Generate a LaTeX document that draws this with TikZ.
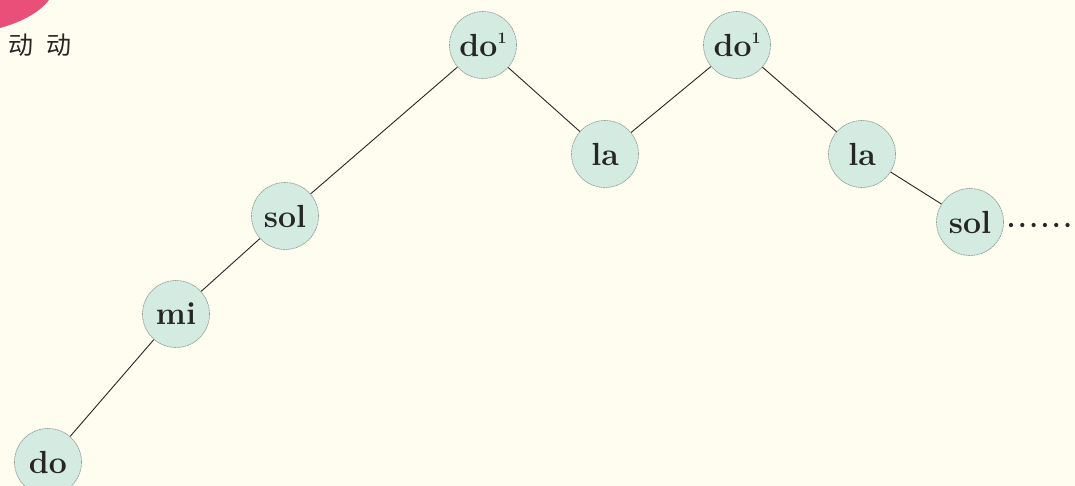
\documentclass[tikz,border=0pt]{standalone}
\usepackage{fontspec}
\newfontfamily\cjk{Noto Sans CJK SC}
\definecolor{bgc}{HTML}{FFFDF0}
\definecolor{notefill}{HTML}{D3EBE1}
\definecolor{noteline}{HTML}{8E9C96}
\definecolor{pinkc}{HTML}{E8507A}
\definecolor{inkc}{HTML}{262626}
\newcommand{\supone}{\raisebox{0.42em}{\fontsize{16}{16}\selectfont\bfseries 1}}
\tikzset{
  note/.style={circle, minimum size=67pt, inner sep=0pt, fill=notefill, draw=noteline, line width=0.6pt,
    dash pattern=on 2pt off 0.6pt,
    font=\fontsize{32}{32}\selectfont\bfseries, text=inkc},
  link/.style={draw=inkc, line width=0.9pt},
  dotc/.style={circle, fill=inkc, inner sep=0pt, minimum size=4.2pt}
}
\begin{document}
\begin{tikzpicture}[x=1pt,y=-1pt]
\useasboundingbox (0,0) rectangle (1075,486);
\fill[bgc] (0,0) rectangle (1075,486);
\fill[pinkc] (0,0) -- (49,0) .. controls (40,12) and (22,22) .. (0,28) -- cycle;
\node[anchor=west, inner sep=0pt, font=\cjk\fontsize{25}{25}\selectfont, text=inkc] (title) at (8,45) {动\hspace{13pt}动};
\node[note] (n1) at (48,462) {do};
\node[note] (n2) at (176,314) {mi};
\node[note] (n3) at (285,216) {sol};
\node[note] (n4) at (483,45) {do\supone};
\node[note] (n5) at (605,154) {la};
\node[note] (n6) at (737,45) {do\supone};
\node[note] (n7) at (862,154) {la};
\node[note] (n8) at (970,222) {sol};
\draw[link] (n1) -- (n2);
\draw[link] (n2) -- (n3);
\draw[link] (n3) -- (n4);
\draw[link] (n4) -- (n5);
\draw[link] (n5) -- (n6);
\draw[link] (n6) -- (n7);
\draw[link] (n7) -- (n8);
\foreach \i in {0,...,5} {
  \node[dotc] (d\i) at (1011+11.3*\i,225) {};
}
\end{tikzpicture}
\end{document}
